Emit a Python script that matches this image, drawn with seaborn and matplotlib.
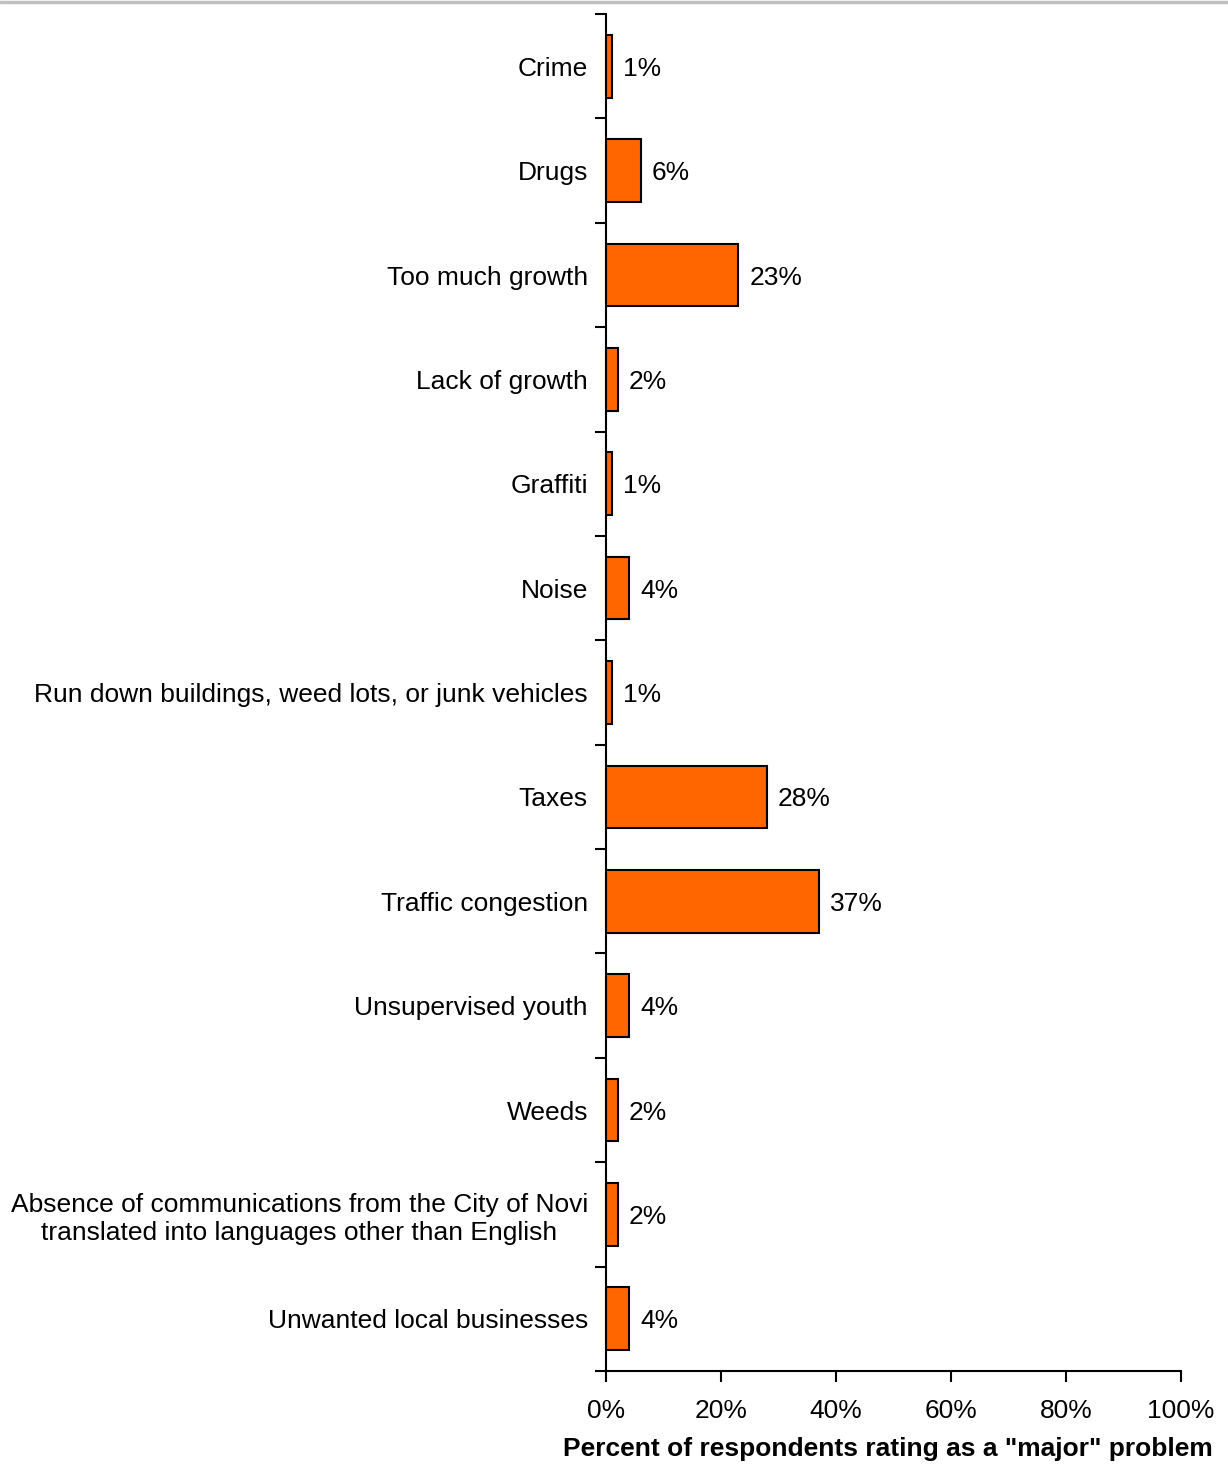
import pandas as pd
import matplotlib
matplotlib.use("Agg")
import matplotlib.pyplot as plt
import seaborn as sns
from matplotlib.lines import Line2D
from matplotlib.ticker import FixedLocator, PercentFormatter

# Problems and share rating each as "major"
problems = [
    "Crime",
    "Drugs",
    "Too much growth",
    "Lack of growth",
    "Graffiti",
    "Noise",
    "Run down buildings, weed lots, or junk vehicles",
    "Taxes",
    "Traffic congestion",
    "Unsupervised youth",
    "Weeds",
    "Absence of communications from the City of Novi\ntranslated into languages other than English",
    "Unwanted local businesses",
]
percent = [1, 6, 23, 2, 1, 4, 1, 28, 37, 4, 2, 2, 4]
x_ticks = [0, 20, 40, 60, 80, 100]

df = pd.DataFrame({"problem": problems, "percent": percent})

sns.set_style("white")
plt.rcParams["font.family"] = ["Liberation Sans", "DejaVu Sans"]
plt.rcParams["text.color"] = "black"
plt.rcParams["xtick.color"] = "black"
plt.rcParams["ytick.color"] = "black"
plt.rcParams["axes.labelcolor"] = "black"

fig = plt.figure(figsize=(12.28, 14.65), dpi=100)
ax = fig.add_axes([0.4935, 0.0642, 0.9617 - 0.4935, 0.9904 - 0.0642])

sns.barplot(data=df, x="percent", y="problem", orient="h", color="#FF6600",
            saturation=1, width=0.6, edgecolor="black", linewidth=1.5, ax=ax)

labels = ax.bar_label(ax.containers[0], labels=[f"{v}%" for v in percent],
                      padding=8, fontsize=19, color="black")
for t in labels:
    t.set_va("center_baseline")

ax.set_xlim(0, 100)
ax.set_ylim(len(problems) - 0.5, -0.5)
ax.set_xticks(x_ticks)
ax.xaxis.set_major_formatter(PercentFormatter(decimals=0))
ax.tick_params(axis="x", labelsize=19, length=8, width=1.5, direction="out",
               bottom=True, pad=12)
ax.tick_params(axis="y", which="major", labelsize=19, length=0, pad=13)
ax.yaxis.set_minor_locator(FixedLocator([i - 0.5 for i in range(len(problems) + 1)]))
ax.tick_params(axis="y", which="minor", length=8, width=1.5, left=True)
for lbl in ax.get_yticklabels():
    lbl.set_multialignment("center")

ax.set_ylabel("")
ax.set_xlabel('Percent of respondents rating as a "major" problem',
              fontsize=19, fontweight="bold")
ax.xaxis.set_label_coords(0.49, -0.049)

sns.despine(ax=ax, top=True, right=True)
for side in ["left", "bottom"]:
    ax.spines[side].set_linewidth(1.5)
    ax.spines[side].set_color("black")

# thin gray rule across the top
fig.add_artist(Line2D([0, 1], [1 - 1.5 / 1465, 1 - 1.5 / 1465],
                      transform=fig.transFigure, color="#C0C0C0", linewidth=2.5))

fig.savefig("out.png", dpi=100)
